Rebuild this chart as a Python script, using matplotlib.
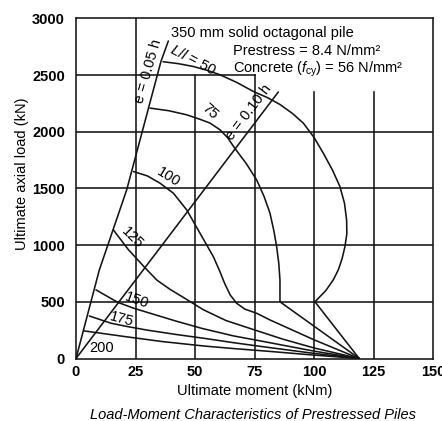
import matplotlib
matplotlib.use("Agg")
import matplotlib.pyplot as plt

plt.rcParams['font.family'] = ['Liberation Sans', 'DejaVu Sans']
plt.rcParams['mathtext.fontset'] = 'custom'
plt.rcParams['mathtext.rm'] = 'Liberation Sans'
plt.rcParams['mathtext.it'] = 'Liberation Sans:italic'

# ---- data (moment kNm, axial load kN) ----
x_ticks = [0, 25, 50, 75, 100, 125, 150]
y_ticks = [0, 500, 1000, 1500, 2000, 2500, 3000]

e05_M = [0, 9.8, 21.3, 35.7, 38.8]
e05_P = [0, 781, 1487, 2620, 2800]
e10_M = [0, 85.0]
e10_P = [0, 2350]

M50 = [36.6, 43.0, 49.3, 55.0, 60.5, 67.5, 74.5, 80.5, 85.7, 91.0, 95.5, 100.0, 103.9,
       107.8, 110.9, 112.8, 113.7, 113.8, 113.0, 111.8, 110.2, 108.1, 105.0, 100.4, 119.0]
P50 = [2617, 2600, 2575, 2542, 2502, 2435, 2355, 2300, 2240, 2160, 2076, 1950, 1811,
       1660, 1516, 1370, 1222, 1100, 987, 880, 781, 693, 600, 500, 0]
M75 = [31.1, 39.0, 46.5, 52.0, 56.3, 60.5, 63.8, 66.5, 71.5, 75.9, 79.0, 81.5, 83.1,
       84.3, 85.2, 85.7, 85.7, 119.0]
P75 = [2208, 2185, 2149, 2110, 2076, 2017, 1945, 1860, 1720, 1575, 1430, 1282, 1130,
       987, 840, 692, 500, 0]
M100 = [24.1, 30.0, 35.3, 40.9, 46.5, 52.1, 57.7, 60.3, 62.5, 64.8, 67.5, 71.0, 75.9,
        81.5, 100.0, 119.0]
P100 = [1649, 1610, 1546, 1458, 1311, 1105, 898, 775, 660, 560, 487, 435, 399,
        340, 165, 0]
M125 = [15.7, 22.0, 29.0, 34.0, 39.5, 45.0, 53.5, 63.0, 75.0, 87.0, 100.0, 119.0]
P125 = [1134, 960, 800, 691, 610, 540, 430, 335, 252, 170, 93, 0]
M150 = [8.4, 17.5, 24.0, 31.0, 42.0, 53.0, 66.0, 80.0, 100.0, 119.0]
P150 = [605, 496, 445, 400, 330, 265, 200, 145, 65, 0]
M175 = [5.6, 14.7, 22.0, 30.0, 42.0, 53.8, 66.0, 80.0, 100.0, 119.0]
P175 = [375, 311, 280, 250, 212, 178, 140, 100, 45, 0]
M200 = [3.5, 20.0, 36.0, 53.8, 66.0, 80.0, 100.0, 119.0]
P200 = [243, 195, 150, 110, 88, 65, 30, 0]

curve_labels = ["L/l = 50", "75", "100", "125", "150", "175", "200"]

# ---- figure ----
fig = plt.figure(figsize=(4.42, 4.21), dpi=100)
W, H = 442, 421
ax = fig.add_axes([76 / W, 1 - 358.5 / H, (433 - 76) / W, (358.5 - 18.3) / H])
ax.set_xlim(0, 150)
ax.set_ylim(0, 3000)

lc = '#141414'
lw = 1.15

# partial grid lines
ax.plot([25, 25], [0, 3000], color=lc, lw=lw)
for gx in [50, 75]:
    ax.plot([gx, gx], [0, 2500], color=lc, lw=lw)
ax.plot([0, 75], [2500, 2500], color=lc, lw=lw)
for gx in [100, 125]:
    ax.plot([gx, gx], [0, 2350], color=lc, lw=lw)
for gy in [500, 1000, 1500, 2000]:
    ax.plot([0, 150], [gy, gy], color=lc, lw=lw)

# curves
for M, P in [(e05_M, e05_P), (e10_M, e10_P), (M50, P50), (M75, P75), (M100, P100),
             (M125, P125), (M150, P150), (M175, P175), (M200, P200)]:
    ax.plot(M, P, color=lc, lw=lw, solid_joinstyle='round', solid_capstyle='round')

fs = 10.5
ax.text(30.3, 2529, "e = 0.05 h", rotation=74, rotation_mode='anchor', ha='center', va='center', fontsize=fs)
ax.text(72.6, 2172, "e = 0.10 h", rotation=52.8, rotation_mode='anchor', ha='center', va='center', fontsize=fs)
ax.text(49.2, 2634, "$L/l$ = " + curve_labels[0].split("= ")[1], rotation=-27.5, rotation_mode='anchor',
        ha='center', va='center', fontsize=fs)
label_pos = [(56.3, 2176, -42), (38.7, 1602, -32), (23.5, 1064, -45),
             (25.6, 516, -20), (19.3, 349, -15), (10.9, 93, 0)]
for txt, (lx, ly, rot) in zip(curve_labels[1:], label_pos):
    ax.text(lx, ly, txt, rotation=rot, rotation_mode='anchor', ha='center', va='center',
            fontsize=fs)

# annotation block
ax.text(40.0, 2870, "350 mm solid octagonal pile", fontsize=fs, ha='left', va='center')
ax.text(66.0, 2710, "Prestress = 8.4 N/mm\u00b2", fontsize=fs, ha='left', va='center')
ax.text(66.0, 2550, "Concrete ($f_{\\mathrm{cy}}$) = 56 N/mm\u00b2", fontsize=fs, ha='left', va='center')

ax.set_xticks(x_ticks)
ax.set_yticks(y_ticks)
ax.set_xticklabels([str(v) for v in x_ticks], fontsize=fs, fontweight='bold')
ax.set_yticklabels([str(v) for v in y_ticks], fontsize=fs, fontweight='bold')
ax.tick_params(axis='x', length=0, pad=5)
ax.tick_params(axis='y', length=0, pad=8)
for s in ax.spines.values():
    s.set_color(lc)
    s.set_linewidth(lw)

ax.set_xlabel("Ultimate moment (kNm)", fontsize=fs)
ax.set_ylabel("Ultimate axial load (kN)", fontsize=fs)
ax.xaxis.set_label_coords(0.501, -0.076)
ax.yaxis.set_label_coords(-0.132, 0.544)

fig.text(253.5 / W, 1 - 415 / H, "Load-Moment Characteristics of Prestressed Piles",
         fontsize=fs, style='italic', ha='center', va='center')

fig.savefig("out.png", dpi=100)
